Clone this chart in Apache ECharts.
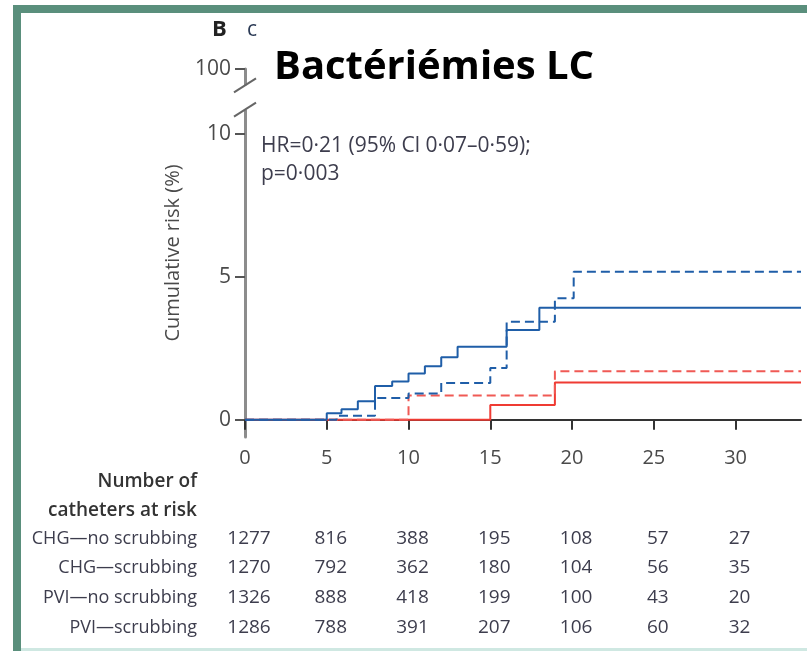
<!DOCTYPE html>
<html><head><meta charset="utf-8">
<script src="https://cdn.jsdelivr.net/npm/echarts@6/dist/echarts.min.js"></script>
<style>html,body{margin:0;padding:0;background:#fff}#c{width:807px;height:651px}</style>
</head><body><div id="c"></div><script>
// ---- data ----
const xTicks = [0, 5, 10, 15, 20, 25, 30];
const yTickValues = [0, 5, 10, 12.27];   // 12.27 = position of the broken-axis "100" tick
const yTickLabels = ['0', '5', '10', '100'];

const pviSolidT = [0, 5.0, 5.9, 6.9, 7.95, 9.0, 10.0, 11.0, 12.0, 13.0, 16.0, 18.0, 34];
const pviSolidV = [0, 0.23, 0.37, 0.65, 1.18, 1.34, 1.62, 1.87, 2.19, 2.56, 3.14, 3.92, 3.92];
const pviDashT = [0, 5.6, 7.95, 10.0, 12.0, 15.0, 16.0, 18.95, 20.1, 34];
const pviDashV = [0, 0.14, 0.76, 0.92, 1.29, 1.81, 3.43, 4.25, 5.18, 5.18];
const chgSolidT = [0, 15.0, 18.95, 34];
const chgSolidV = [0, 0.52, 1.31, 1.31];
const chgDashT = [0, 10.0, 18.95, 34];
const chgDashV = [0, 0.85, 1.70, 1.70];

const riskGroups = ['CHG—no scrubbing', 'CHG—scrubbing', 'PVI—no scrubbing', 'PVI—scrubbing'];
const riskTimes = [0, 5, 10, 15, 20, 25, 30];
const riskCHGno = [1277, 816, 388, 195, 108, 57, 27];
const riskCHGs = [1270, 792, 362, 180, 104, 56, 35];
const riskPVIno = [1326, 888, 418, 199, 100, 43, 20];
const riskPVIs = [1286, 788, 391, 207, 106, 60, 32];
const riskRows = [riskCHGno, riskCHGs, riskPVIno, riskPVIs];

const titleText = 'Bactériémies LC';
const hrText = 'HR=0·21 (95% Cl 0·07–0·59);';
const pText = 'p=0·003';

// ---- chart ----
const FONT = '"Open Sans", sans-serif';
const TXT = '#3d3d4d';
const zip = (t, v) => t.map((x, i) => [x, v[i]]);

const chart = echarts.init(document.getElementById('c'), null, {renderer: 'canvas'});
function lineSeries(name, t, v, color, dashed, z) {
  return {
    name, type: 'line', step: 'end', symbol: 'none', z,
    data: zip(t, v),
    lineStyle: {color, width: 2, type: dashed ? [9, 5] : 'solid'},
    animation: false
  };
}
chart.setOption({
  backgroundColor: '#fff',
  animation: false,
  grid: {left: 245, right: 6, top: 69, bottom: 214, containLabel: false},
  xAxis: {
    type: 'value', min: 0, max: 34,
    axisLine: {show: true, lineStyle: {color: '#333', width: 2}},
    axisTick: {show: true, length: 10, customValues: xTicks, lineStyle: {color: '#333', width: 2}},
    axisLabel: {customValues: xTicks, margin: 11, fontSize: 20, color: '#4a4a4a', fontFamily: FONT},
    splitLine: {show: false}
  },
  yAxis: {
    type: 'value', min: -0.6, max: 12.27,
    name: 'Cumulative risk (%)', nameLocation: 'middle', nameGap: 62,
    nameTextStyle: {fontSize: 20, color: '#4a4a4a', fontFamily: FONT},
    axisLine: {show: true, lineStyle: {color: '#8c8c8c', width: 3}},
    axisTick: {show: true, length: 10, customValues: yTickValues, lineStyle: {color: '#555', width: 2}},
    axisLabel: {
      customValues: yTickValues, margin: 14, fontSize: 21, color: '#4a4a4a', fontFamily: FONT,
      formatter: v => { const i = yTickValues.findIndex(u => Math.abs(u - v) < 1e-6); return i >= 0 ? yTickLabels[i] : ''; }
    },
    splitLine: {show: false}
  },
  series: [
    lineSeries('CHG—scrubbing', chgSolidT, chgSolidV, '#ef3b33', false, 2),
    lineSeries('CHG—no scrubbing', chgDashT, chgDashV, '#f05a55', true, 2),
    lineSeries('PVI—no scrubbing', pviDashT, pviDashV, '#1f5ea8', true, 3),
    lineSeries('PVI—scrubbing', pviSolidT, pviSolidV, '#1f5ea8', false, 4)
  ]
});

const px = (x, y) => chart.convertToPixel({gridIndex: 0}, [x, y]);
const g = [];
// frame
g.push({type: 'rect', shape: {x: 13, y: 5, width: 8, height: 646}, style: {fill: '#5a8f7c'}, z: 100});
g.push({type: 'rect', shape: {x: 13, y: 5, width: 794, height: 8}, style: {fill: '#5a8f7c'}, z: 100});
g.push({type: 'rect', shape: {x: 21, y: 648, width: 786, height: 3}, style: {fill: '#cfe8e2'}, z: 100});
// broken axis
const bLo = px(0, 10.85), bHi = px(0, 11.7);
g.push({type: 'rect', shape: {x: bLo[0] - 4, y: bHi[1], width: 8, height: bLo[1] - bHi[1]}, style: {fill: '#fff'}, z: 50});
[bLo, bHi].forEach(p => g.push({type: 'line', shape: {x1: p[0] - 11, y1: p[1] + 7, x2: p[0] + 11, y2: p[1] - 7}, style: {stroke: '#666', lineWidth: 2}, z: 51}));
// texts
g.push({type: 'text', left: 212, top: 19, style: {text: 'B', font: 'bold 22px ' + FONT, fill: '#222'}, z: 60});
g.push({type: 'text', left: 247, top: 20, style: {text: 'c', font: '21px ' + FONT, fill: '#2b3a55'}, z: 60});
g.push({type: 'text', x: 274, y: 68, style: {text: titleText, font: 'bold 40px ' + FONT, fill: '#000', verticalAlign: 'middle'}, z: 60});
g.push({type: 'text', x: 261, y: 146, style: {text: hrText, font: '21px ' + FONT, fill: TXT, verticalAlign: 'middle'}, z: 60});
g.push({type: 'text', x: 261, y: 174, style: {text: pText, font: '21px ' + FONT, fill: TXT, verticalAlign: 'middle'}, z: 60});
// risk table
const labelRight = 197;
g.push({type: 'text', x: labelRight, y: 482, style: {text: 'Number of', font: '600 19px ' + FONT, fill: '#333', align: 'right', verticalAlign: 'middle'}, z: 60});
g.push({type: 'text', x: labelRight, y: 511, style: {text: 'catheters at risk', font: '600 19px ' + FONT, fill: '#333', align: 'right', verticalAlign: 'middle'}, z: 60});
const rowY = [539, 568, 598, 628];
riskGroups.forEach((name, r) => {
  g.push({type: 'text', x: labelRight, y: rowY[r], style: {text: name, font: '18px ' + FONT, fill: TXT, align: 'right', verticalAlign: 'middle'}, z: 60});
  riskRows[r].forEach((n, i) => {
    const p = px(riskTimes[i], 0);
    g.push({type: 'text', x: p[0] + 4, y: rowY[r], style: {text: String(n), font: '19px ' + FONT, fill: TXT, align: 'center', verticalAlign: 'middle'}, z: 60});
  });
});
chart.setOption({graphic: {elements: g}});
</script></body></html>
